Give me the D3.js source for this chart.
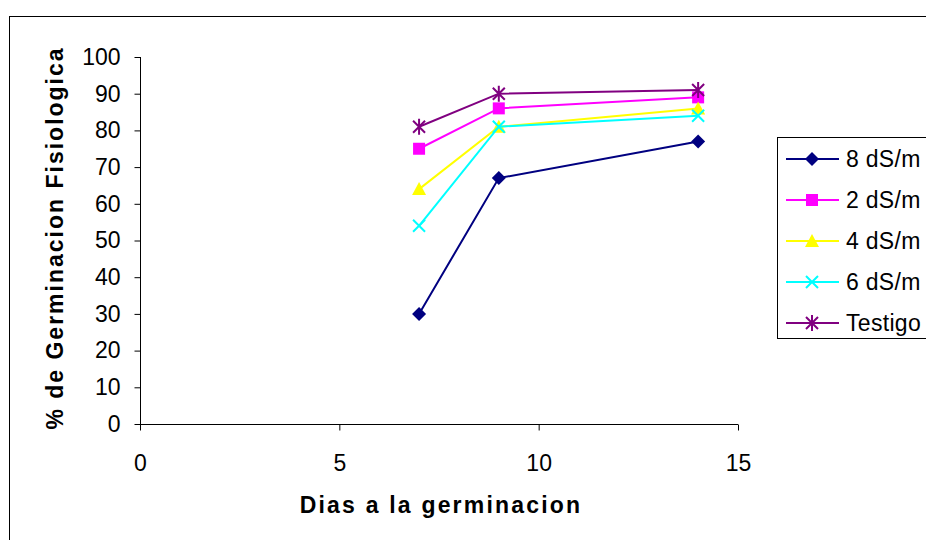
<!DOCTYPE html>
<html>
<head>
<meta charset="utf-8">
<script src="https://cdn.jsdelivr.net/npm/d3@7"></script>
<style>
  body { margin: 0; background: #fff; }
  svg { font-family: Arial, "Liberation Sans", sans-serif; }
</style>
</head>
<body>
<script>
const days = [7, 9, 14];
const seriesNames = ['8 dS/m', '2 dS/m', '4 dS/m', '6 dS/m', 'Testigo'];
const val8 = [30, 67, 77];
const val2 = [75, 86, 89];
const val4 = [64, 81, 86];
const val6 = [54, 81, 84];
const valTestigo = [81, 90, 91];
const xTicks = [0, 5, 10, 15];
const yTicks = [0, 10, 20, 30, 40, 50, 60, 70, 80, 90, 100];

const colors = ['#000080', '#FF00FF', '#FFFF00', '#00FFFF', '#800080'];
const markers = ['diamond', 'square', 'triangle', 'x', 'star'];
const allValues = [val8, val2, val4, val6, valTestigo];

const series = seriesNames.map((name, i) => ({
  name: name,
  color: colors[i],
  marker: markers[i],
  points: days.map((d, j) => ({ x: d, y: allValues[i][j] }))
}));

const width = 926, height = 540;
const svg = d3.select('body').append('svg')
    .attr('width', width)
    .attr('height', height);

// outer chart border
svg.append('rect')
    .attr('x', 9.5).attr('y', 16.5)
    .attr('width', 940).attr('height', 540)
    .attr('fill', 'none').attr('stroke', '#000').attr('stroke-width', 1);

const x = d3.scaleLinear().domain([0, 15]).range([140, 738]);
const y = d3.scaleLinear().domain([0, 100]).range([424, 57]);

// y axis
const yAxis = svg.append('g')
    .attr('transform', 'translate(140.5,0)')
    .call(d3.axisLeft(y).tickValues(yTicks).tickSize(6).tickPadding(14));
yAxis.select('.domain').attr('d', `M0,${y(100)}V${y(0)}`);

// x axis
const xAxis = svg.append('g')
    .attr('transform', `translate(0,${y(0) + 0.5})`)
    .call(d3.axisBottom(x).tickValues(xTicks).tickSize(6).tickPadding(24));
xAxis.select('.domain').attr('d', `M${x(0)},0H${x(15)}`);

svg.selectAll('.tick text')
    .attr('font-size', 23)
    .attr('font-family', 'Arial, "Liberation Sans", sans-serif')
    .attr('fill', '#000');
svg.selectAll('.domain, .tick line').attr('stroke', '#000');

// axis titles
svg.append('text')
    .attr('x', 441).attr('y', 513)
    .attr('text-anchor', 'middle')
    .attr('font-size', 23).attr('font-weight', 'bold')
    .attr('letter-spacing', 2.2)
    .text('Dias a la germinacion');

svg.append('text')
    .attr('transform', 'translate(63,238) rotate(-90)')
    .attr('text-anchor', 'middle')
    .attr('font-size', 23).attr('font-weight', 'bold')
    .attr('letter-spacing', 2)
    .text('% de Germinacion Fisiologica');

function drawMarker(g, type, color) {
  if (type === 'diamond') {
    g.append('path').attr('d', 'M0,-7L7,0L0,7L-7,0Z').attr('fill', color);
  } else if (type === 'square') {
    g.append('rect').attr('x', -6).attr('y', -6).attr('width', 12).attr('height', 12).attr('fill', color);
  } else if (type === 'triangle') {
    g.append('path').attr('d', 'M0,-7L7,6L-7,6Z').attr('fill', color);
  } else if (type === 'x') {
    g.append('path').attr('d', 'M-6,-6L6,6M-6,6L6,-6').attr('stroke', color).attr('stroke-width', 2);
  } else if (type === 'star') {
    g.append('path').attr('d', 'M-6,-6L6,6M-6,6L6,-6M0,-8V8').attr('stroke', color).attr('stroke-width', 2);
  }
}

const line = d3.line().x(d => x(d.x)).y(d => y(d.y));

series.forEach(s => {
  svg.append('path')
      .datum(s.points)
      .attr('d', line)
      .attr('fill', 'none')
      .attr('stroke', s.color)
      .attr('stroke-width', 2);
  s.points.forEach(p => {
    const g = svg.append('g').attr('transform', `translate(${x(p.x)},${y(p.y)})`);
    drawMarker(g, s.marker, s.color);
  });
});

// legend
const legend = svg.append('g');
legend.append('rect')
    .attr('x', 777.5).attr('y', 137.5)
    .attr('width', 200).attr('height', 201)
    .attr('fill', '#fff').attr('stroke', '#000');

series.forEach((s, i) => {
  const ly = 159 + i * 41;
  const g = legend.append('g').attr('transform', `translate(0,${ly})`);
  g.append('line')
      .attr('x1', 786).attr('x2', 839)
      .attr('stroke', s.color).attr('stroke-width', 2);
  const m = g.append('g').attr('transform', 'translate(812,0)');
  drawMarker(m, s.marker, s.color);
  g.append('text')
      .attr('x', 846).attr('y', 8)
      .attr('font-size', 23)
      .attr('letter-spacing', 0.3)
      .text(s.name);
});
</script>
</body>
</html>
